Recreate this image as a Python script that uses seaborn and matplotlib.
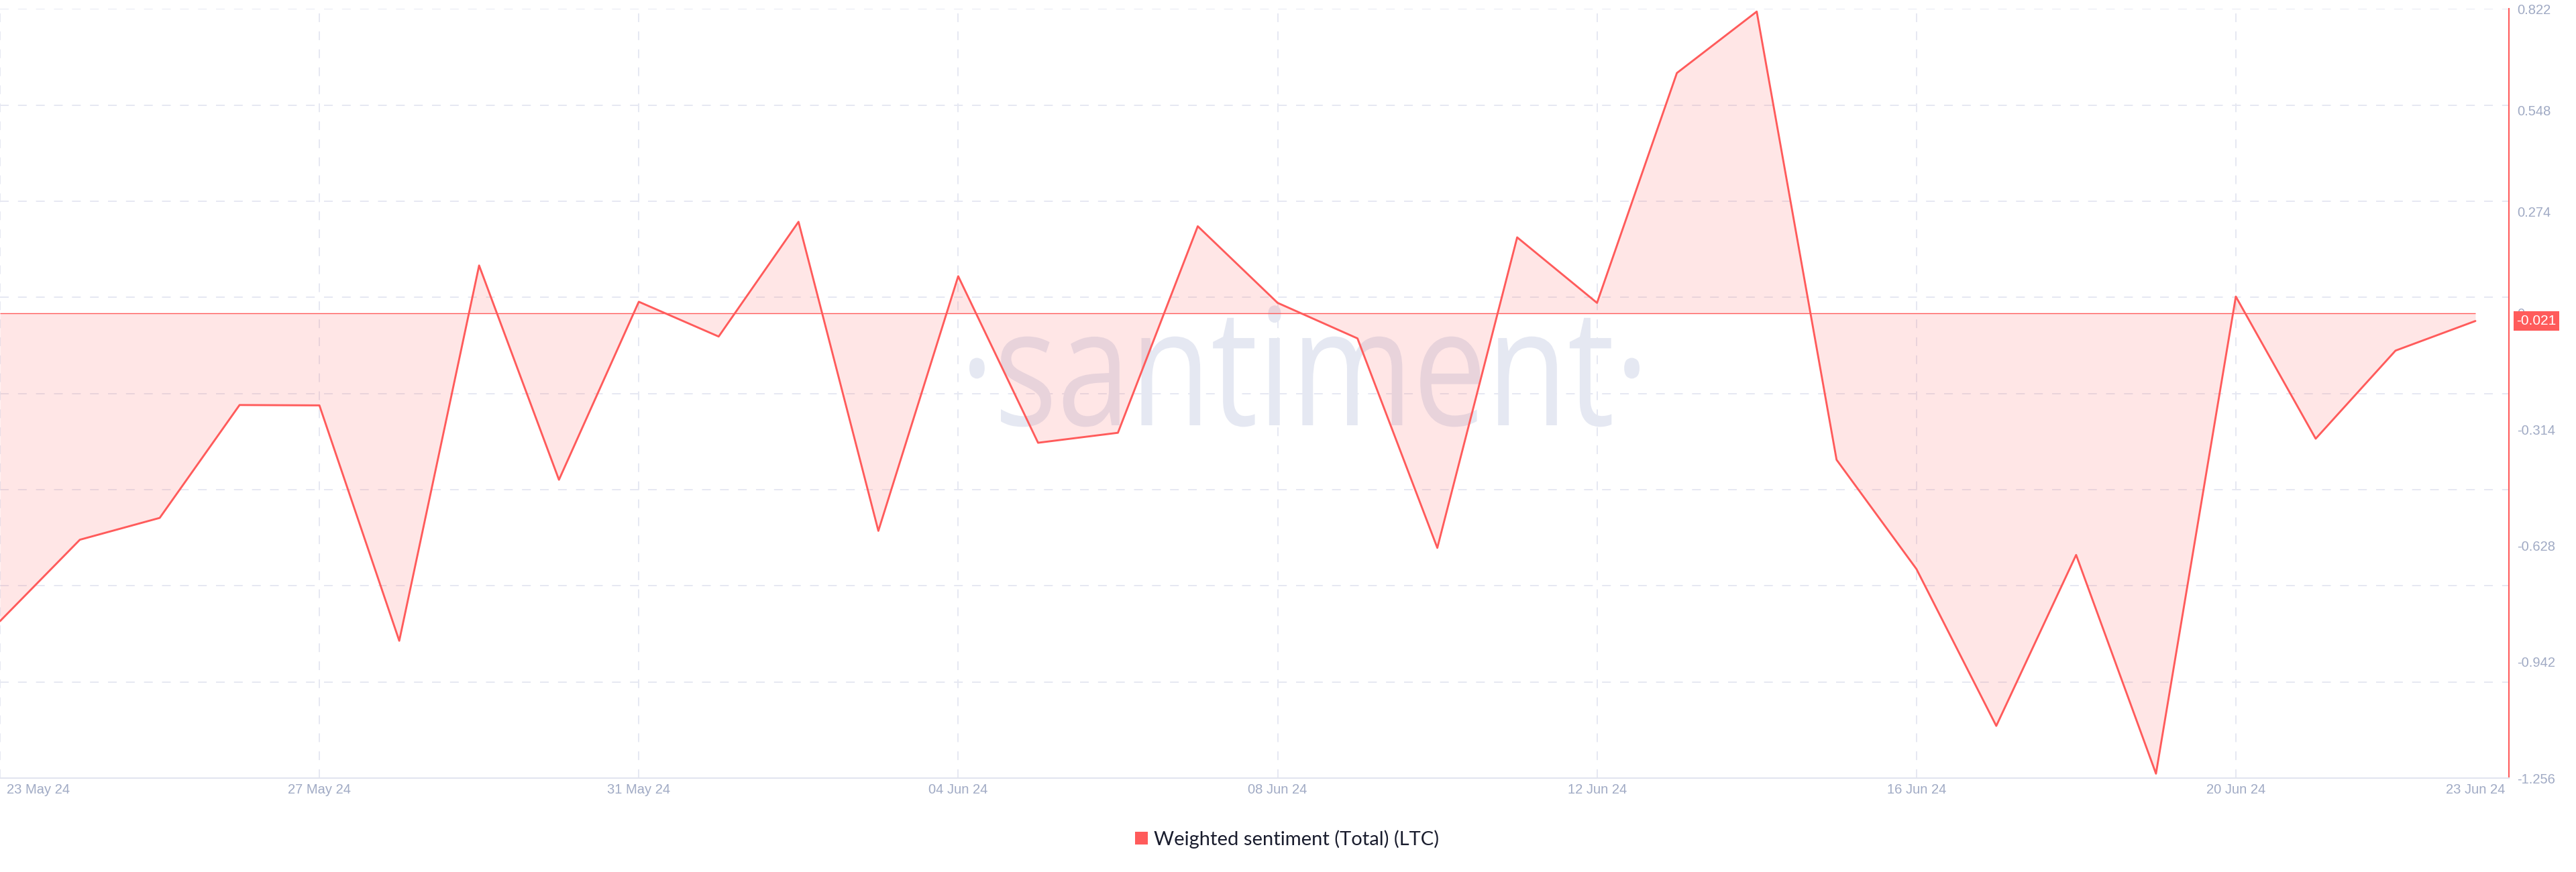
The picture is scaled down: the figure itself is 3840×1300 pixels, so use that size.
import numpy as np
import pandas as pd
import matplotlib
matplotlib.use("Agg")
import matplotlib.pyplot as plt
import matplotlib.transforms as mtransforms
from matplotlib.patches import Patch, PathPatch
from matplotlib.textpath import TextPath
from matplotlib.font_manager import FontProperties
import seaborn as sns

# ---------------- data ----------------
dates = pd.date_range("2024-05-23", "2024-06-23", freq="D")
sentiment = [-0.832, -0.612, -0.553, -0.248, -0.249, -0.885, 0.129, -0.450,
             0.031, -0.063, 0.247, -0.588, 0.100, -0.350, -0.323, 0.235,
             0.028, -0.068, -0.634, 0.205, 0.028, 0.649, 0.815, -0.396,
             -0.691, -1.115, -0.653, -1.244, 0.045, -0.339, -0.101, -0.021]
ytick_values = [0.822, 0.548, 0.274, 0.0, -0.314, -0.628, -0.942, -1.256]
ytick_labels = ["0.822", "0.548", "0.274", "0", "-0.314", "-0.628", "-0.942", "-1.256"]
xtick_dates = pd.to_datetime(["2024-05-23", "2024-05-27", "2024-05-31", "2024-06-04",
                              "2024-06-08", "2024-06-12", "2024-06-16", "2024-06-20",
                              "2024-06-23"])
xtick_labels = ["23 May 24", "27 May 24", "31 May 24", "04 Jun 24", "08 Jun 24",
                "12 Jun 24", "16 Jun 24", "20 Jun 24", "23 Jun 24"]
grid_dates = xtick_dates[:-1]
latest_label = "-0.021"
series_name = "Weighted sentiment (Total) (LTC)"
watermark = "\u00b7santiment\u00b7"
y_min, y_max = -1.256, 0.822

df = pd.DataFrame({"date": dates, "value": sentiment})

# ---------------- style ----------------
RED = "#ff5b5b"
GRID = "#e6e8f2"
TICK = "#a0aac4"
W, H = 3840, 1300

sns.set_style("white")
plt.rcParams["font.family"] = ["Liberation Sans", "DejaVu Sans"]

fig = plt.figure(figsize=(W / 100, H / 100), dpi=100, facecolor="white")
ax = fig.add_axes([0.0, 1 - 1160 / H, 3740 / W, (1160 - 13.4) / H])
ax.patch.set_visible(False)

# watermark (condensed text path, in output pixel coordinates)
em_px = 243.0
tp = TextPath((0, 0), watermark, size=em_px, prop=FontProperties(family="Open Sans"))
ext = tp.get_extents()
sx = 999.0 / ext.width
wm_tr = (mtransforms.Affine2D()
         .translate(-(ext.x0 + ext.x1) / 2, 0)
         .scale(sx, 1.0)
         .translate(1944.5, H - 634))
fig.add_artist(PathPatch(tp, transform=wm_tr, facecolor="#e5e8f2",
                         edgecolor="none", zorder=-1))

# grid
for yv in np.linspace(y_min, y_max, 9)[1:]:
    ax.axhline(yv, color=GRID, lw=1.4, dashes=(6.7, 7.1), zorder=0.5)
for gd in grid_dates:
    ax.axvline(gd, color=GRID, lw=1.4, dashes=(6.7, 7.1), zorder=0.5)

# area + line
ax.fill_between(df["date"], df["value"], 0, color=RED, alpha=0.15, lw=0, zorder=1)
ax.hlines(0, df["date"].min(), df["date"].max(), color=RED, lw=1.0, zorder=1.5)
sns.lineplot(data=df, x="date", y="value", ax=ax, color=RED, lw=2.1, zorder=2)

ax.set_xlim(dates[0], dates[-1] + pd.Timedelta(days=0.42))
ax.set_ylim(y_min, y_max)
ax.set_xlabel("")
ax.set_ylabel("")

# ticks
ax.yaxis.tick_right()
ax.set_yticks(ytick_values)
ax.set_yticklabels(ytick_labels)
ax.set_xticks(xtick_dates)
ax.set_xticklabels(xtick_labels)
ax.tick_params(axis="y", length=0, pad=8.5, labelsize=14.5, labelcolor=TICK)
ax.tick_params(axis="x", length=0, pad=6, labelsize=14.5, labelcolor=TICK)
first = ax.get_xticklabels()[0]
first.set_ha("left")
first.set_transform(first.get_transform() +
                    mtransforms.ScaledTranslation(0.1, 0, fig.dpi_scale_trans))

# spines
for s in ["top", "left"]:
    ax.spines[s].set_visible(False)
ax.spines["bottom"].set_color("#e2e5ef")
ax.spines["bottom"].set_linewidth(1.5)
ax.spines["right"].set_color(RED)
ax.spines["right"].set_linewidth(1.5)

# latest-value tag
tag_tr = mtransforms.blended_transform_factory(ax.transAxes, ax.transData)
ax.text(1.0, sentiment[-1], latest_label,
        transform=tag_tr + mtransforms.ScaledTranslation(0.115, 0, fig.dpi_scale_trans),
        ha="left", va="center", fontsize=15, color="white", clip_on=False, zorder=5,
        bbox=dict(boxstyle="square,pad=0.22", facecolor=RED, edgecolor="none"))

# legend
handle = Patch(facecolor=RED, edgecolor="none", label=series_name)
fig.legend(handles=[handle], loc="center", bbox_to_anchor=(0.4997, 1 - 1251 / H),
           frameon=False, handlelength=0.65, handleheight=0.65,
           handletextpad=0.32, prop={"family": ["Lato", "DejaVu Sans"], "size": 21},
           labelcolor="#1a1d2e")

fig.savefig("out.png", dpi=100, facecolor="white")
